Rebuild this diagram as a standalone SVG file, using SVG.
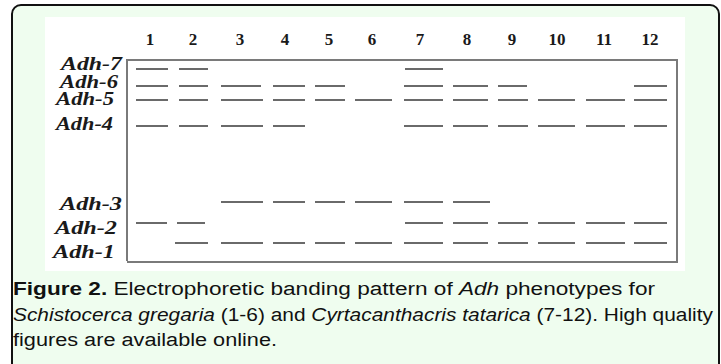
<svg xmlns="http://www.w3.org/2000/svg" width="721" height="364" viewBox="0 0 721 364">
<style>
.lbl{font-family:"Liberation Serif","Times New Roman",serif;font-weight:bold;font-style:italic;font-size:19px;fill:#1a1a1a}
.num{font-family:"Liberation Serif","Times New Roman",serif;font-weight:bold;font-size:17px;fill:#1a1a1a;text-anchor:middle}
.band{stroke:#6a6a6a;stroke-width:2;fill:none}
.cap{font-family:"Liberation Sans",Arial,sans-serif;font-size:18px;fill:#111}
</style>
<rect x="12" y="5" width="707" height="380" rx="9" ry="9" fill="#effdef" stroke="#111" stroke-width="2"/>
<rect x="45" y="17" width="640" height="254" fill="#ffffff"/>
<g id="frame"><path d="M127,261 V60 H677 V262 H127" fill="none" stroke="#7a7a7a" stroke-width="2"/></g>
<g id="lanes">
<text class="num" x="150" y="45">1</text>
<text class="num" x="193" y="45">2</text>
<text class="num" x="240" y="45">3</text>
<text class="num" x="285" y="45">4</text>
<text class="num" x="329" y="45">5</text>
<text class="num" x="372" y="45">6</text>
<text class="num" x="420" y="45">7</text>
<text class="num" x="467" y="45">8</text>
<text class="num" x="512" y="45">9</text>
<text class="num" x="557" y="45">10</text>
<text class="num" x="604" y="45">11</text>
<text class="num" x="650" y="45">12</text>
</g>
<g id="labels">
<text class="lbl" x="61" y="70" textLength="61" lengthAdjust="spacingAndGlyphs">Adh-7</text>
<text class="lbl" x="60" y="88" textLength="58" lengthAdjust="spacingAndGlyphs">Adh-6</text>
<text class="lbl" x="56" y="105" textLength="58" lengthAdjust="spacingAndGlyphs">Adh-5</text>
<text class="lbl" x="56" y="130" textLength="57" lengthAdjust="spacingAndGlyphs">Adh-4</text>
<text class="lbl" x="60" y="210" textLength="62" lengthAdjust="spacingAndGlyphs">Adh-3</text>
<text class="lbl" x="55" y="234" textLength="62" lengthAdjust="spacingAndGlyphs">Adh-2</text>
<text class="lbl" x="53" y="258" textLength="62" lengthAdjust="spacingAndGlyphs">Adh-1</text>
</g>
<g id="bands" class="band">
<path d="M136,69H168 M179,69H208 M405,69H443"/>
<path d="M136,86H168 M179,86H208 M221,86H261 M273,86H305 M315,86H345 M404,86H443 M453,86H488 M498,86H527 M634,86H667"/>
<path d="M136,100H168 M179,100H208 M221,100H263 M273,100H305 M315,100H345 M355,100H392 M404,100H443 M453,100H488 M498,100H528 M538,100H575 M586,100H625 M634,100H667"/>
<path d="M136,126H168 M179,126H208 M221,126H263 M273,126H305 M404,126H443 M453,126H488 M498,126H528 M538,126H575 M586,126H625 M634,126H667"/>
<path d="M221,202H263 M273,202H305 M315,202H345 M355,202H392 M404,202H443 M453,202H490"/>
<path d="M136,223H167 M177,223H205 M405,223H443 M453,223H488 M498,223H528 M538,223H575 M586,223H625 M634,223H667"/>
<path d="M175,243H208 M221,243H263 M273,243H305 M315,243H345 M355,243H392 M404,243H443 M453,243H488 M498,243H528 M538,243H575 M586,243H625 M634,243H667"/>
</g>
<g id="caption">
<text class="cap" x="13" y="295" textLength="642" lengthAdjust="spacingAndGlyphs"><tspan font-weight="bold">Figure 2.</tspan> Electrophoretic banding pattern of <tspan font-style="italic">Adh</tspan> phenotypes for</text>
<text class="cap" x="13" y="321" textLength="700" lengthAdjust="spacingAndGlyphs"><tspan font-style="italic">Schistocerca gregaria</tspan> (1-6) and <tspan font-style="italic">Cyrtacanthacris tatarica</tspan> (7-12). High quality</text>
<text class="cap" x="13" y="346" textLength="264" lengthAdjust="spacingAndGlyphs">figures are available online.</text>
</g>
</svg>
